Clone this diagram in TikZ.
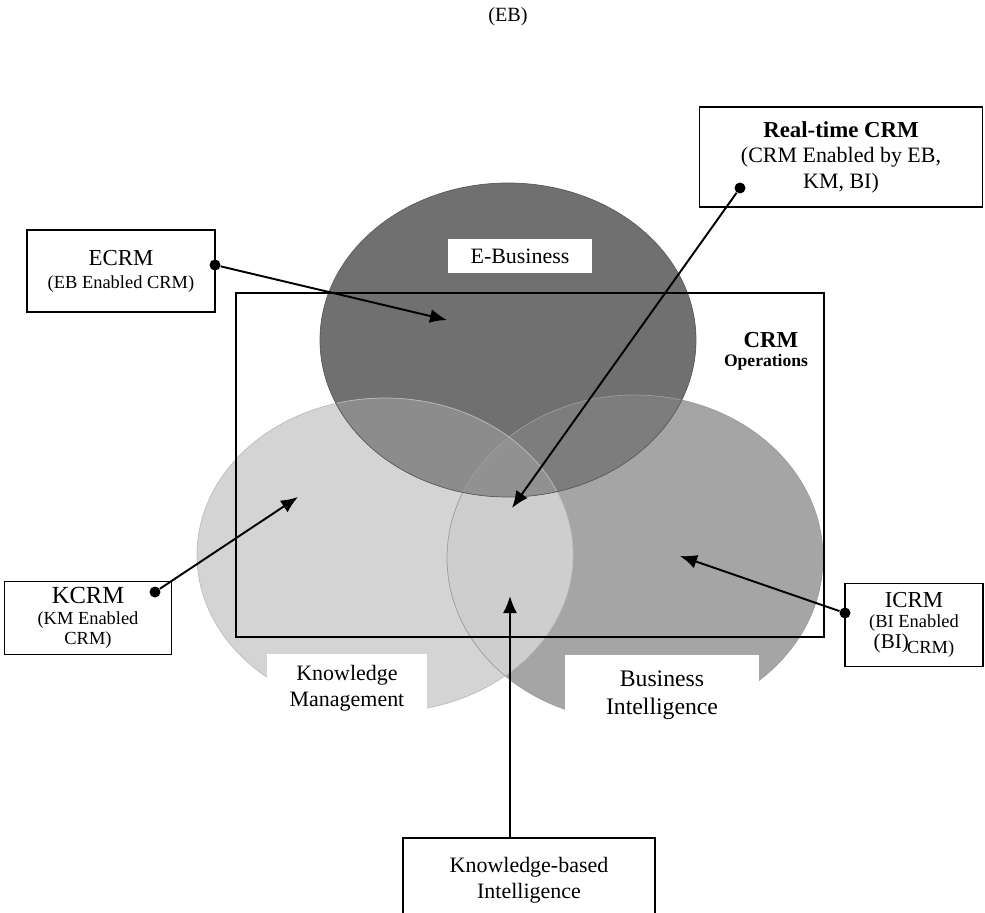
\documentclass[tikz,border=0pt]{standalone}
\usepackage{fontspec}
\setmainfont{Liberation Serif}
\usepackage{tikz}
\usetikzlibrary{arrows.meta, positioning}
\usepackage{xcolor}
\definecolor{ebfill}{RGB}{112,112,112}
\definecolor{kmfill}{RGB}{212,212,212}
\definecolor{bifill}{RGB}{165,165,165}
\definecolor{kbfill}{RGB}{206,206,206}
\definecolor{ekfill}{RGB}{140,140,140}
\definecolor{eifill}{RGB}{125,125,125}
\definecolor{allfill}{RGB}{145,145,145}
\definecolor{edge}{RGB}{90,90,90}

\begin{document}
\begin{tikzpicture}[x=0.02cm, y=-0.02cm,
  lbox/.style={draw, line width=1pt, fill=white, align=center, inner sep=2pt},
  tag/.style={fill=white, align=center, inner sep=2pt},
  dot/.style={circle, fill=black, inner sep=0pt, minimum size=2.2mm},
  link/.style={line width=1.1pt, -{Latex[length=3.4mm, width=2.8mm]}}]
  \useasboundingbox (0,0) rectangle (985,913);
  % Circles
  \fill[bifill] (635,558) ellipse [x radius=188, y radius=163];
  \fill[kmfill] (385,555) ellipse [x radius=188, y radius=157];
  \begin{scope}
    \clip (385,555) ellipse [x radius=188, y radius=157];
    \fill[kbfill] (635,558) ellipse [x radius=188, y radius=163];
  \end{scope}
  \fill[ebfill] (508,340) ellipse [x radius=188, y radius=157];
  \begin{scope}
    \clip (508,340) ellipse [x radius=188, y radius=157];
    \fill[ekfill] (385,555) ellipse [x radius=188, y radius=157];
    \fill[eifill] (635,558) ellipse [x radius=188, y radius=163];
    \clip (385,555) ellipse [x radius=188, y radius=157];
    \fill[allfill] (635,558) ellipse [x radius=188, y radius=163];
  \end{scope}
  \draw[edge!60, thin] (635,558) ellipse [x radius=188, y radius=163];
  \draw[edge!40, thin] (385,555) ellipse [x radius=188, y radius=157];
  \draw[edge, thin] (508,340) ellipse [x radius=188, y radius=157];
  % CRM frame
  \draw[line width=1.1pt] (236,293) rectangle (824,637);
  \node[font=\fontsize{13}{15}\selectfont\bfseries] (crm) at (771,340) {CRM};
  \node[font=\fontsize{10}{12}\selectfont\bfseries] (ops) at (766,362) {Operations};
  % Circle labels
  \node[tag, minimum width=2.9cm, minimum height=0.68cm, font=\fontsize{12.5}{15}\selectfont] (eb) at (520,256) {E-Business};
  \node[tag, minimum width=3.2cm, minimum height=1.36cm, font=\fontsize{12.5}{15}\selectfont] (km) at (347,688) {Knowledge\\Management};
  \node[tag, minimum width=3.9cm, minimum height=1.6cm, font=\fontsize{13.5}{16}\selectfont] (bi) at (662,695) {Business\\Intelligence};
  \node[font=\fontsize{11.5}{14}\selectfont] (ebtop) at (508,17) {(EB)};
  % Boxes
  \node[lbox, minimum width=5.66cm, minimum height=2cm, font=\fontsize{12.5}{14.5}\selectfont] (rt) at (841,157)
    {{\fontsize{13}{15}\selectfont\bfseries Real-time CRM}\\(CRM Enabled by EB,\\KM, BI)};
  \node[lbox, minimum width=3.76cm, minimum height=1.64cm, font=\fontsize{10.5}{13}\selectfont] (ecrm) at (121,271)
    {{\fontsize{13}{15}\selectfont ECRM}\\(EB Enabled CRM)};
  \node[lbox, minimum width=3.34cm, minimum height=1.46cm, font=\fontsize{10.5}{11.5}\selectfont] (kcrm) at (88,618)
    {{\fontsize{14}{15}\selectfont KCRM}\\(KM Enabled\\CRM)};
  \node[lbox, minimum width=2.76cm, minimum height=1.66cm, font=\fontsize{10.5}{11.5}\selectfont] (icrm) at (914,625)
    {{\fontsize{13}{15}\selectfont ICRM}\\(BI Enabled\\{\fontsize{12}{12}\selectfont\raisebox{3pt}{(BI)}}\kern-1pt CRM)};
  \node[lbox, minimum width=5.04cm, minimum height=1.7cm, anchor=north, font=\fontsize{12.5}{14.5}\selectfont] (kbi) at (529,837)
    {Knowledge-based\\Intelligence};
  % Dots and arrow tips
  \node[dot] (ecdot) at (215,265) {};
  \node[dot] (rtdot) at (740,188) {};
  \node[dot] (kcdot) at (155,592) {};
  \node[dot] (icdot) at (845,613) {};
  \coordinate (ectip) at (447,320);
  \coordinate (rttip) at (512,508);
  \coordinate (kctip) at (298,497);
  \coordinate (ictip) at (680,556);
  \coordinate (kbtip) at (510,596);
  % Connectors
  \draw[link] (ecdot) -- (ectip);
  \draw[link] (rtdot) -- (rttip);
  \draw[link] (kcdot) -- (kctip);
  \draw[link] (icdot) -- (ictip);
  \draw[link] (kbi.north -| kbtip) -- (kbtip);
\end{tikzpicture}
\end{document}
